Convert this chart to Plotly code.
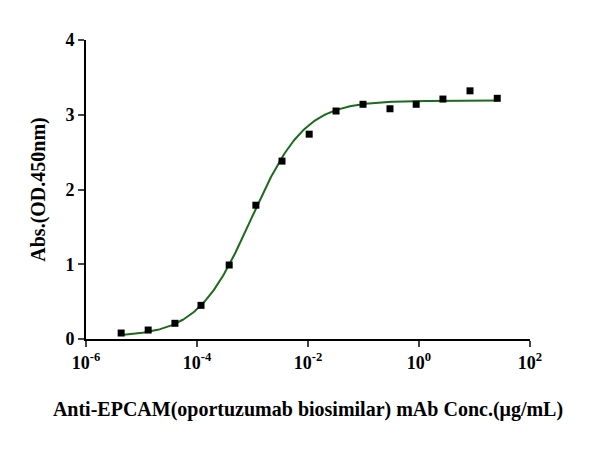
import numpy as np
import plotly.graph_objects as go

conc = [4.3e-6, 1.32e-5, 4.0e-5, 1.18e-4, 3.8e-4, 1.15e-3, 3.4e-3, 1.05e-2, 3.2e-2, 9.8e-2, 0.30, 0.89, 2.7, 8.3, 25.7]
absorb = [0.08, 0.12, 0.21, 0.45, 0.99, 1.79, 2.38, 2.74, 3.05, 3.14, 3.08, 3.14, 3.21, 3.32, 3.22]
xtickvals = [1e-6, 1e-4, 1e-2, 1, 1e2]
xticktext = ["<b>10<sup>-6</sup></b>", "<b>10<sup>-4</sup></b>", "<b>10<sup>-2</sup></b>", "<b>10<sup>0</sup></b>", "<b>10<sup>2</sup></b>"]
ytickvals = [0, 1, 2, 3, 4]
yticktext = ["<b>0</b>", "<b>1</b>", "<b>2</b>", "<b>3</b>", "<b>4</b>"]

# 4PL fit parameters
bottom, top, ec50, hill = 0.03, 3.19, 9.5e-4, 0.9

xf = np.logspace(np.log10(conc[0]), np.log10(conc[-1]), 300)
yf = bottom + (top - bottom) / (1 + (ec50 / xf) ** hill)

fig = go.Figure()
fig.add_trace(go.Scatter(x=xf, y=yf, mode="lines", line=dict(color="#1a6b1a", width=2), showlegend=False))
fig.add_trace(go.Scatter(x=conc, y=absorb, mode="markers",
                         marker=dict(symbol="square", size=7, color="black"), showlegend=False))
font = dict(family="Liberation Serif", size=17, color="black")
tf = dict(family="Liberation Serif", size=18, color="black")
fig.update_layout(
    width=593, height=454, margin=dict(l=78, r=71, t=32, b=123, autoexpand=False),
    plot_bgcolor="white", paper_bgcolor="white", font=font,
    xaxis=dict(type="log", range=[-6, 2], tickvals=xtickvals, ticktext=xticktext,
               showline=True, linecolor="black", linewidth=2, ticks="outside",
               ticklen=6, tickwidth=2, showgrid=False, zeroline=False, tickfont=tf,
               title=dict(text="<b>Anti-EPCAM(oportuzumab biosimilar) mAb Conc.(μg/mL)</b>", standoff=30)),
    yaxis=dict(range=[0, 4], tickvals=ytickvals, ticktext=yticktext, showline=True, linecolor="black", linewidth=2,
               ticks="outside", ticklen=6, tickwidth=2, showgrid=False, zeroline=False, tickfont=tf,
               title=dict(text="<b>Abs.(OD.450nm)</b>", standoff=14)),
)
fig.write_html("out.html")
